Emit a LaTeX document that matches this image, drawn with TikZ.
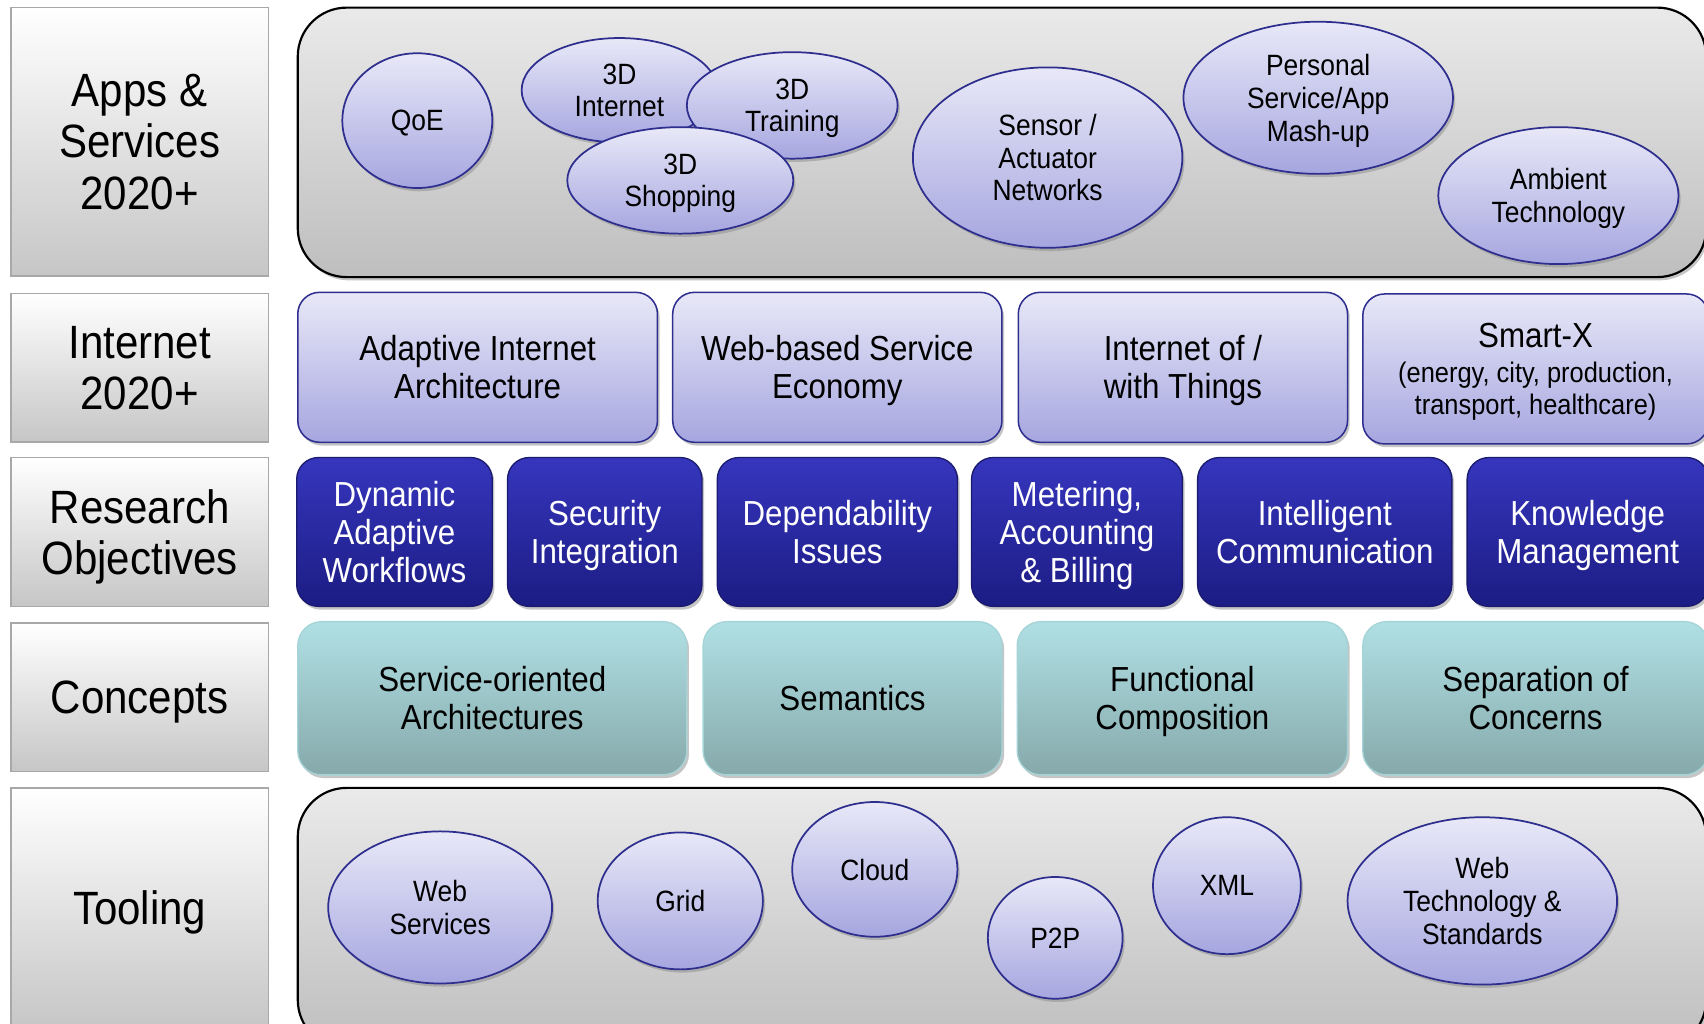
\documentclass[tikz,border=0pt]{standalone}
\usepackage{fontspec}
\setmainfont[FakeStretch=0.9]{Liberation Sans}
\usetikzlibrary{shadows,shapes.geometric}
\definecolor{lavtop}{HTML}{E8E8F8}
\definecolor{lavbot}{HTML}{A6A6E0}
\definecolor{lavline}{HTML}{2E2E8E}
\definecolor{navytop}{HTML}{3636BE}
\definecolor{navymid}{HTML}{2828A8}
\definecolor{navybot}{HTML}{1C1C84}
\definecolor{navyline}{HTML}{1A1A6E}
\definecolor{tealtop}{HTML}{B0E0E4}
\definecolor{tealbot}{HTML}{86A9AB}
\definecolor{tealline}{HTML}{A4D4D8}
\definecolor{paneltop}{HTML}{EAEAEA}
\definecolor{panelbot}{HTML}{BEBEBE}
\definecolor{lbltop}{HTML}{FFFFFF}
\definecolor{lblbot}{HTML}{C6C6C6}
\definecolor{lblline}{HTML}{A8A8A8}
\tikzset{
  shd/.style={drop shadow={shadow xshift=2pt, shadow yshift=-3pt, fill=black!45}},
  lbl/.style={rectangle, minimum width=237pt, top color=lbltop, bottom color=lblbot,
    draw=lblline, line width=1.5pt, align=center, inner sep=0pt, text depth=0pt,
    font=\fontsize{43}{47.5}\selectfont},
  panel/.style={rectangle, rounded corners=45pt, draw=black, line width=2pt,
    top color=paneltop, bottom color=panelbot, shd, inner sep=0pt},
  ell/.style={ellipse, draw=lavline, line width=1.6pt, top color=lavtop, bottom color=lavbot,
    align=center, inner sep=0pt, text depth=0pt, font=\fontsize{27}{30}\selectfont, shd},
  netbox/.style={rectangle, rounded corners=20pt, draw=lavline, line width=1.4pt,
    top color=lavtop, bottom color=lavbot, align=center, inner sep=0pt, text depth=0pt,
    font=\fontsize{32}{35}\selectfont, minimum height=138pt, shd},
  resbox/.style={rectangle, rounded corners=20pt, draw=navyline, line width=1.2pt,
    top color=navytop, middle color=navymid, bottom color=navybot, text=white,
    align=center, inner sep=0pt, text depth=0pt, font=\fontsize{32}{35}\selectfont,
    minimum height=137pt, shd},
  conbox/.style={rectangle, rounded corners=22pt, draw=tealline, line width=1.2pt,
    top color=tealtop, bottom color=tealbot, align=center, inner sep=0pt, text depth=0pt,
    font=\fontsize{32}{35}\selectfont, minimum height=141pt, shd},
}
\begin{document}
\begin{tikzpicture}[x=1pt,y=-1pt]
\useasboundingbox (0,0) rectangle (1568,942);
\fill[white] (0,0) rectangle (1568,942);
\clip (0,0) rectangle (1568,942);

% left labels
\node[lbl, minimum height=247pt] (lapps) at (128.5,130.5) {Apps \&\\Services\\2020+};
\node[lbl, minimum height=137pt] (lnet) at (128.5,338.5) {Internet\\2020+};
\node[lbl, minimum height=137pt] (lres) at (128.5,489.5) {Research\\Objectives};
\node[lbl, minimum height=137pt] (lcon) at (128.5,641.5) {Concepts};
\node[lbl, minimum height=221pt] (ltool) at (128.5,835.5) {Tooling};

% top panel
\node[panel, minimum width=1296pt, minimum height=248pt] (apppanel) at (922,131) {};
\node[ell, minimum width=138pt, minimum height=124pt] (qoe) at (384,111) {QoE};
\node[ell, minimum width=180pt, minimum height=96pt] (i3d) at (570,83) {3D\\Internet};
\node[ell, minimum width=194pt, minimum height=98pt] (t3d) at (729,97) {3D\\Training};
\node[ell, minimum width=208pt, minimum height=98pt] (s3d) at (626,166) {3D\\Shopping};
\node[ell, minimum width=248pt, minimum height=166pt] (san) at (964,145) {Sensor /\\Actuator\\Networks};
\node[ell, minimum width=248pt, minimum height=140pt] (psa) at (1213,90) {Personal\\Service/App\\Mash-up};
\node[ell, minimum width=221pt, minimum height=126pt] (amb) at (1434,180) {Ambient\\Technology};

% internet row
\node[netbox, minimum width=331pt] (aia) at (439.5,338) {Adaptive Internet\\Architecture};
\node[netbox, minimum width=303pt] (wbse) at (770.5,338) {Web-based Service\\Economy};
\node[netbox, minimum width=303pt] (iot) at (1088.5,338) {Internet of /\\with Things};
\node[netbox, minimum width=318pt, font=\fontsize{26}{29}\selectfont] (smx) at (1413,339.5)
  {{\fontsize{32}{32}\selectfont Smart-X}\\[3pt](energy, city, production,\\transport, healthcare)};

% research row
\node[resbox, minimum width=180pt] (daw) at (363,489.5) {Dynamic\\Adaptive\\Workflows};
\node[resbox, minimum width=179pt] (si) at (556.5,489.5) {Security\\Integration};
\node[resbox, minimum width=221pt] (di) at (770.5,489.5) {Dependability\\Issues};
\node[resbox, minimum width=194pt] (mab) at (991,489.5) {Metering,\\Accounting\\\& Billing};
\node[resbox, minimum width=234pt] (ic) at (1219,489.5) {Intelligent\\Communication};
\node[resbox, minimum width=222pt] (km) at (1461,489.5) {Knowledge\\Management};

% concepts row
\node[conbox, minimum width=358pt] (soa) at (453,642.5) {Service-oriented\\Architectures};
\node[conbox, minimum width=275pt] (sem) at (784.5,642.5) {Semantics};
\node[conbox, minimum width=304pt] (fc) at (1088,642.5) {Functional\\Composition};
\node[conbox, minimum width=318pt] (soc) at (1413,642.5) {Separation of\\Concerns};

% tooling panel
\node[panel, minimum width=1296pt, minimum height=240pt] (toolpanel) at (922,845) {};
\node[ell, minimum width=206pt, minimum height=140pt] (ws) at (405,835) {Web\\Services};
\node[ell, minimum width=152pt, minimum height=126pt] (grid) at (626,829) {Grid};
\node[ell, minimum width=152pt, minimum height=124pt] (cloud) at (805,800) {Cloud};
\node[ell, minimum width=124pt, minimum height=112pt] (p2p) at (971,863) {P2P};
\node[ell, minimum width=136pt, minimum height=126pt] (xml) at (1129,815) {XML};
\node[ell, minimum width=248pt, minimum height=154pt] (wts) at (1364,829) {Web\\Technology \&\\Standards};
\end{tikzpicture}
\end{document}
